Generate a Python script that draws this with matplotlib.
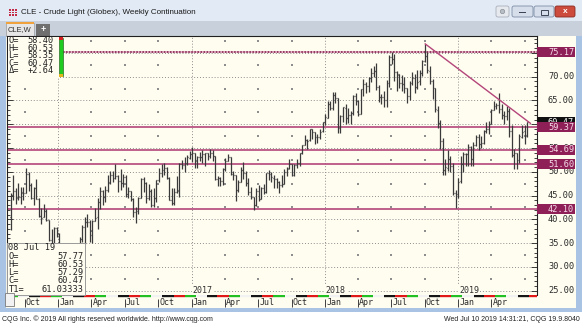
import numpy as np
import pandas as pd
import matplotlib
matplotlib.use("Agg")
import matplotlib.pyplot as plt
import matplotlib.dates as mdates
import matplotlib.patches as patches
import matplotlib.transforms as mtransforms

# ---------------------------------------------------------------------------
# weekly CLE continuation, one bar per week from 24 Aug 2015 to 08 Jul 2019
# ---------------------------------------------------------------------------
first_week = "2015-08-24"

opens = [
    # 2015
    40.5, 45.2, 46.0, 44.6, 44.7, 45.6, 45.5, 49.6, 47.3, 44.6, 46.6, 44.3, 40.7, 40.4, 41.7, 39.9, 35.6, 34.8, 38.1,
    # 2016
    37.0, 33.2, 29.4, 32.2, 33.6, 30.9, 29.4, 31.0, 32.8, 35.9, 38.5, 39.4, 39.5, 36.8, 39.7, 40.4, 43.7, 45.9, 44.7, 46.2,
    47.8, 49.3, 48.6, 49.1, 48.0, 47.6, 49.0, 45.4, 45.9, 44.2, 41.6, 41.8, 44.5, 48.5, 47.6, 44.4, 45.9, 43.0, 44.5, 48.2,
    49.8, 50.4, 50.9, 48.7, 44.1, 43.4, 45.7, 46.1, 51.7, 51.5, 51.9, 53.0,
    # 2017
    53.7, 54.0, 52.4, 53.2, 53.2, 53.8, 53.9, 53.4, 54.0, 53.3, 48.5, 48.8, 48.0, 50.6, 52.2, 53.2, 49.6, 49.3, 46.2, 47.8,
    50.3, 49.8, 47.7, 45.8, 44.7, 43.0, 46.0, 44.2, 46.5, 45.8, 49.7, 49.6, 48.8, 48.5, 47.9, 47.3, 47.5, 49.9, 50.7, 51.7,
    49.3, 51.5, 51.8, 53.9, 55.6, 56.7, 56.6, 58.9, 58.4, 57.4, 57.3, 58.5,
    # 2018
    60.4, 61.4, 64.3, 63.4, 66.1, 65.5, 59.2, 61.7, 63.5, 61.3, 62.0, 62.3, 65.9, 64.9, 62.1, 67.4, 68.4, 68.1, 69.7, 70.7,
    71.3, 67.9, 65.8, 65.7, 65.1, 68.6, 74.2, 73.8, 71.0, 70.5, 68.7, 68.5, 67.6, 65.9, 68.7, 69.8, 67.8, 69.0, 70.8, 73.3,
    74.3, 71.3, 69.1, 67.6, 63.1, 60.2, 56.5, 50.4, 50.9, 52.6, 51.2, 45.6, 45.3,
    # 2019
    48.0, 51.6, 53.8, 53.7, 55.3, 52.7, 55.6, 57.3, 55.8, 56.1, 58.5, 59.0, 60.1, 63.1, 63.9, 64.0, 63.3, 61.9, 61.7, 62.8,
    58.6, 53.5, 54.0, 52.5, 57.4, 58.5, 57.77,
]
highs = [
    45.5, 49.3, 46.5, 47.7, 46.8, 46.8, 50.9, 49.9, 47.7, 46.9, 48.4, 44.5, 42.3, 43.3, 42.2, 39.9, 37.9, 38.3, 38.4,
    37.1, 33.3, 32.4, 34.8, 34.2, 31.8, 32.5, 33.1, 36.3, 38.9, 40.6, 41.2, 39.9, 39.8, 42.4, 44.5, 46.8, 46.2, 47.1, 49.3,
    50.2, 50.2, 51.7, 49.4, 50.5, 49.6, 49.4, 46.9, 46.0, 44.4, 42.6, 44.8, 48.8, 49.0, 47.8, 47.5, 46.4, 46.5, 48.3, 50.7,
    51.6, 51.9, 51.0, 49.0, 46.5, 46.5, 49.2, 51.9, 52.4, 53.2, 53.6, 54.3,
    55.2, 54.0, 53.4, 54.1, 54.5, 54.0, 54.0, 54.9, 54.6, 53.4, 49.1, 48.9, 50.8, 52.9, 53.8, 53.2, 50.2, 49.3, 48.3, 51.0,
    52.0, 50.2, 48.8, 46.9, 44.7, 46.5, 47.3, 46.8, 47.5, 49.8, 50.4, 50.0, 49.4, 48.8, 48.0, 49.4, 50.5, 51.1, 52.8, 51.7,
    51.6, 52.8, 54.0, 55.6, 57.7, 57.0, 59.0, 59.0, 58.4, 58.0, 58.9, 60.5,
    62.2, 64.8, 64.9, 66.7, 66.7, 65.6, 62.0, 63.7, 64.2, 63.4, 62.7, 66.1, 66.6, 65.1, 67.4, 69.6, 68.9, 70.0, 71.9, 72.3,
    72.8, 68.2, 66.3, 67.1, 69.3, 74.5, 75.3, 74.8, 71.3, 70.5, 70.4, 70.0, 67.6, 69.1, 71.0, 70.6, 71.4, 71.4, 73.6, 76.9,
    75.3, 72.2, 69.6, 67.6, 63.9, 60.8, 57.1, 52.6, 54.6, 53.4, 51.9, 46.2, 48.8,
    53.3, 54.1, 54.0, 55.8, 55.5, 56.2, 57.8, 57.9, 57.5, 58.8, 60.4, 60.7, 63.3, 64.8, 64.4, 66.6, 64.2, 62.7, 63.9, 63.4,
    59.8, 54.8, 54.0, 57.9, 59.9, 59.9, 60.53,
]
lows = [
    37.75, 44.0, 43.2, 44.0, 43.2, 44.0, 45.5, 45.9, 44.2, 43.0, 44.3, 40.6, 39.0, 40.4, 39.6, 35.4, 34.5, 34.6, 36.3,
    32.1, 29.4, 27.6, 29.2, 29.5, 26.05, 28.8, 29.6, 32.6, 35.3, 34.9, 38.5, 35.2, 35.1, 39.6, 38.0, 42.2, 43.0, 43.6, 45.8,
    47.4, 47.8, 48.5, 45.8, 46.1, 46.8, 44.8, 44.4, 43.8, 40.6, 39.2, 41.2, 44.4, 45.8, 43.4, 44.0, 42.5, 42.7, 43.6, 47.8,
    49.0, 49.3, 48.4, 44.0, 43.0, 43.0, 45.5, 44.8, 50.5, 50.0, 51.5, 52.6,
    52.1, 50.7, 50.9, 52.2, 51.9, 51.2, 52.4, 53.0, 52.3, 48.3, 47.1, 47.1, 47.3, 50.2, 52.2, 49.4, 48.2, 43.8, 45.8, 47.8,
    48.4, 47.0, 45.2, 44.2, 42.05, 42.9, 43.8, 44.2, 45.4, 45.6, 48.3, 47.8, 46.5, 46.6, 45.6, 46.8, 47.4, 49.2, 50.6, 49.1,
    49.2, 50.7, 51.3, 53.7, 55.6, 54.8, 56.4, 56.8, 55.8, 56.1, 57.0, 58.4,
    59.9, 61.4, 63.0, 63.1, 64.4, 58.1, 58.2, 60.4, 60.0, 60.2, 60.1, 61.9, 64.0, 61.8, 62.1, 66.0, 66.5, 66.8, 68.8, 69.9,
    67.3, 64.6, 64.2, 63.6, 63.6, 67.9, 72.6, 69.2, 67.0, 67.6, 66.9, 66.6, 64.4, 65.2, 68.3, 66.5, 67.5, 68.3, 70.1, 73.1,
    70.8, 68.5, 65.3, 62.6, 59.3, 54.8, 49.4, 49.4, 50.1, 49.9, 45.1, 42.36, 44.4,
    47.6, 49.9, 51.3, 51.3, 51.2, 51.2, 55.4, 54.5, 55.1, 55.8, 58.2, 57.9, 60.1, 63.0, 63.3, 62.4, 61.2, 60.0, 60.8, 57.3,
    53.1, 50.6, 50.6, 51.8, 57.2, 55.9, 57.29,
]
closes = [
    45.22, 46.05, 44.63, 44.68, 45.70, 45.54, 49.63, 47.26, 44.60, 46.59, 44.29, 40.74, 40.39, 41.71, 39.97, 35.62, 34.73,
    38.10, 37.04,
    33.16, 29.42, 32.19, 33.62, 30.89, 29.44, 29.64, 32.78, 35.92, 38.50, 39.44, 39.46, 36.79, 39.72, 40.36, 43.73, 45.92,
    44.66, 46.21, 47.75, 49.33, 48.62, 49.07, 47.98, 47.64, 48.99, 45.41, 45.95, 44.19, 41.60, 41.80, 44.49, 48.52, 47.64,
    44.44, 45.88, 43.03, 44.48, 48.24, 49.81, 50.35, 50.85, 48.70, 44.07, 43.41, 45.69, 46.06, 51.68, 51.50, 51.90, 53.02,
    53.72,
    53.99, 52.37, 53.22, 53.17, 53.83, 53.86, 53.40, 53.99, 53.33, 48.49, 48.78, 47.97, 50.60, 52.24, 53.18, 49.62, 49.33,
    46.22, 47.84, 50.33, 49.80, 47.66, 45.83, 44.74, 43.01, 46.04, 44.23, 46.54, 45.77, 49.71, 49.58, 48.82, 48.51, 47.87,
    47.29, 47.48, 49.89, 50.66, 51.67, 49.29, 51.45, 51.84, 53.90, 55.64, 56.74, 56.55, 58.95, 58.36, 57.36, 57.30, 58.47,
    60.42,
    61.44, 64.30, 63.37, 66.14, 65.45, 59.20, 61.68, 63.55, 61.25, 62.04, 62.34, 65.88, 64.94, 62.06, 67.39, 68.38, 68.10,
    69.72, 70.70, 71.28, 67.88, 65.81, 65.74, 65.06, 68.58, 74.15, 73.80, 71.01, 70.46, 68.69, 68.49, 67.63, 65.91, 68.72,
    69.80, 67.75, 68.99, 70.78, 73.25, 74.34, 71.34, 69.12, 67.59, 63.14, 60.19, 56.46, 50.42, 50.93, 52.61, 51.20, 45.59,
    45.33, 47.96,
    51.59, 53.80, 53.69, 55.26, 52.72, 55.59, 57.26, 55.80, 56.07, 58.52, 59.04, 60.14, 63.08, 63.89, 64.00, 63.30, 61.94,
    61.66, 62.76, 58.63, 53.50, 53.99, 52.51, 57.43, 58.47, 57.51, 60.47,
]

# study lines drawn on the chart
level_values = [75.17, 59.37, 54.69, 51.60, 42.10]
last_close = 60.47
trend_dates = ["2018-10-02", "2019-07-17"]
trend_values = [76.9, 60.2]

# right axis scale
price_ticks = [25, 30, 35, 40, 45, 50, 55, 60, 65, 70, 75]

# year markers shown along the bottom (2016 sits under the read-out box)
year_labels = ["2017", "2018", "2019"]

# read-outs
top_info = [("O=", "58.40"), ("H=", "60.53"), ("L=", "58.35"), ("C=", "60.47"), ("\u0394=", "+2.64")]
cursor_date = "08 Jul 19"
cursor_info = [("O=", "57.77"), ("H=", "60.53"), ("L=", "57.29"), ("C=", "60.47"), ("T1=", "61.03333")]

title = "CLE - Crude Light (Globex), Weekly Continuation"
footer_left = "CQG Inc. \u00a9 2019 All rights reserved worldwide. http://www.cqg.com"
footer_right = "Wed Jul 10 2019 14:31:21, CQG 19.9.8040"

#==================================================================================================================

W, H = 582, 327
CREAM = "#FFFDF0"
FRAME = "#A9C3E4"
LINE_C = "#B4457A"
TAG_C = "#8E1F57"
MONO = "DejaVu Sans Mono"
SANS = "Liberation Sans"

fig = plt.figure(figsize=(W / 100, H / 100), dpi=100)

# full figure canvas in pixel units for the window chrome
bg = fig.add_axes([0, 0, 1, 1], zorder=0)
bg.set_xlim(0, W)
bg.set_ylim(H, 0)
bg.axis("off")


def box(x0, y0, x1, y1, fc, ec="none", lw=0.0, z=1, top=False):
    r = patches.Rectangle((x0, y0), x1 - x0, y1 - y0, facecolor=fc, edgecolor=ec, lw=lw,
                          transform=bg.transData, zorder=z)
    if top:
        fig.add_artist(r)
    else:
        bg.add_patch(r)
    return r


def ftext(x, y, s, z=7, **kw):
    fig.text(x / W, 1 - y / H, s, zorder=z, **kw)


# window frame
box(0, 0, W, H, "#D6E1EF")
box(0, 0, W, 21, "#E2EAF5")
box(0, 21, W, 36, "#C8D0DB")
box(0, 36, 6, 309, FRAME)
box(576, 36, W, 309, FRAME)
box(0, 308, W, 312, FRAME)
box(0, 312, W, H, "#FFFFFF")
box(6, 36, 576, 308, CREAM)

# title bar icon and text
for i in range(3):
    for j in range(3):
        box(8.5 + 3 * i, 9 + 2.6 * j, 10.5 + 3 * i, 10.8 + 2.6 * j, "#C42A45")
ftext(21, 12.5, title, fontsize=5.8, family=SANS, color="#1A1A1A", va="center", ha="left")

# window buttons
btns = [(496, 509, "#E6E9EE", "#A8AFBA"), (512, 533, "#D5DEEA", "#7D8DA6"),
        (534, 554, "#D5DEEA", "#7D8DA6"), (555, 575, "#CC4B3C", "#8B2B22")]
for x0, x1, fc, ec in btns:
    bg.add_patch(patches.FancyBboxPatch((x0, 6), x1 - x0, 11, boxstyle="round,pad=0,rounding_size=2",
                                        facecolor=fc, edgecolor=ec, lw=0.6, transform=bg.transData))
box(519, 12, 526, 13.4, "#3C4656")
bg.add_patch(patches.Rectangle((540.5, 9.5), 7, 5, facecolor="none", edgecolor="#3C4656", lw=0.7))
ftext(565, 11.8, "x", fontsize=6, family=SANS, color="white", ha="center", va="center", weight="bold")
bg.add_patch(patches.Circle((502.5, 11.5), 2.2, facecolor="#B8BEC6", edgecolor="#8A9099", lw=0.5))

# tabs
box(6, 23, 34, 36, "#E6E6E6", ec="#9A9A9A", lw=0.5)
box(6, 22, 34, 23.6, "#F0A23C")
ftext(20, 29.8, "CLE,W", fontsize=5.4, family=SANS, color="#303030", ha="center", va="center")
box(36, 24, 50, 36, "#6F6F6F")
ftext(43, 29.8, "+", fontsize=6.5, family=SANS, color="white", ha="center", va="center", weight="bold")

# footer
ftext(2, 319.5, footer_left, fontsize=5.0, family=SANS, color="#202020", ha="left", va="center")
ftext(580, 319.5, footer_right, fontsize=5.0, family=SANS, color="#202020", ha="right", va="center")

#==================================================================================================================
# price pane
#==================================================================================================================
ax_l, ax_r, ax_t, ax_b = 7, 537, 36, 295
ax = fig.add_axes([ax_l / W, 1 - ax_b / H, (ax_r - ax_l) / W, (ax_b - ax_t) / H], zorder=1)
ax.set_facecolor(CREAM)

dates = pd.date_range(first_week, periods=len(closes), freq="7D")
xd = mdates.date2num(dates)
x_left = mdates.date2num(pd.Timestamp("2015-08-14"))
x_right = mdates.date2num(pd.Timestamp("2019-08-04"))
ax.set_xlim(x_left, x_right)
ax.set_ylim(24.1, 78.56)

# grid: dotted price levels, dotted year lines, dots at quarter / half levels
grid_c = "#8E8E8E"
for p in price_ticks:
    ax.axhline(p, color=grid_c, lw=0.7, ls=(0, (1, 2)), zorder=1)
years = pd.date_range("2016-01-01", "2019-01-01", freq="YS")
for yd in years:
    ax.axvline(mdates.date2num(yd), color=grid_c, lw=0.7, ls=(0, (1, 2)), zorder=1)
quarters = [d for d in pd.date_range("2015-10-01", "2019-07-01", freq="QS") if d.month != 1]
half_levels = [p + 2.5 for p in price_ticks]
qx, qy = np.meshgrid(mdates.date2num(quarters), half_levels)
ax.scatter(qx.ravel(), qy.ravel(), s=0.6, color=grid_c, marker="s", lw=0, zorder=1)

# horizontal levels
ax.axhline(level_values[0], xmin=(63 - ax_l) / (ax_r - ax_l), color="#E6B2C8", lw=1.4, zorder=2)
ax.axhline(level_values[0], xmin=(63 - ax_l) / (ax_r - ax_l), color="#7E1A45", lw=1.1, ls=(0, (1, 1)), zorder=2)
for lv in level_values[1:]:
    ax.axhline(lv, color=LINE_C, lw=1.2, zorder=2)

# weekly OHLC bars
bar_c = "#3A3A3A"
ax.vlines(xd, lows, highs, color=bar_c, lw=0.9, zorder=3)
ax.hlines(opens, xd - 2.6, xd, color=bar_c, lw=0.9, zorder=3)
ax.hlines(closes, xd, xd + 2.6, color=bar_c, lw=0.9, zorder=3)

# trend line
ax.plot(mdates.date2num(pd.to_datetime(trend_dates)), trend_values, color=LINE_C, lw=1.0, zorder=4)

# year labels sitting on the bottom grid line
for yl in year_labels:
    ax.text(mdates.date2num(pd.Timestamp(yl + "-01-01")) + 2, price_ticks[0], yl, fontsize=6, family=MONO,
            color="#303030", ha="left", va="center", zorder=4,
            bbox=dict(boxstyle="square,pad=0.1", facecolor=CREAM, edgecolor="none"))

# frame and ticks
for side in ["left", "right", "top"]:
    ax.spines[side].set_color("#202020")
    ax.spines[side].set_linewidth(0.8)
ax.spines["bottom"].set_visible(False)
ax.set_xticks([])
ax.set_yticks(price_ticks)
ax.yaxis.set_minor_locator(matplotlib.ticker.MultipleLocator(1))
ax.tick_params(axis="y", which="both", direction="in", left=True, right=True, labelleft=False,
               labelright=False, color="#202020", width=0.6)
ax.tick_params(axis="y", which="major", length=4)
ax.tick_params(axis="y", which="minor", length=2)

# right price scale and level tags
yt = mtransforms.blended_transform_factory(ax.transAxes, ax.transData)
lab_x = 1 + (548 - ax_r) / (ax_r - ax_l)
tag_w = (575 - ax_r) / (ax_r - ax_l)
tag_h = 10 / ((ax_b - ax_t) / (78.56 - 24.1))
for p in price_ticks:
    ax.text(lab_x, p, f"{p:.2f}", transform=yt, fontsize=6.2, family=MONO, color="#2A2A2A",
            ha="left", va="center", clip_on=False, zorder=5)
ax.add_patch(patches.Rectangle((1.0, last_close - tag_h / 2), tag_w, tag_h, transform=yt, facecolor="#111111",
                               edgecolor="none", clip_on=False, zorder=6))
ax.text(lab_x, last_close, f"{last_close:.2f}", transform=yt, fontsize=6.2, family=MONO, color="white",
        ha="left", va="center", clip_on=False, zorder=7)
for lv in level_values:
    ax.add_patch(patches.Rectangle((1.0, lv - tag_h / 2), tag_w, tag_h, transform=yt, facecolor=TAG_C,
                                   edgecolor="none", clip_on=False, zorder=8))
    ax.text(lab_x, lv, f"{lv:.2f}", transform=yt, fontsize=6.2, family=MONO, color="#F6DCE8",
            ha="left", va="center", clip_on=False, zorder=9)

#==================================================================================================================
# date strip under the pane
#==================================================================================================================
dax = fig.add_axes([ax_l / W, 1 - 308 / H, (ax_r - ax_l) / W, (308 - ax_b) / H], zorder=2)
dax.set_xlim(x_left, x_right)
dax.set_ylim(13, 0)
dax.axis("off")

seg_starts = pd.date_range("2015-07-01", "2019-09-01", freq="MS") + pd.Timedelta(days=11)
seg_colors = ["#E01818", "#22C022", "#F2F2F2", "#151515"]
sx = mdates.date2num(seg_starts)
for i in range(len(sx) - 1):
    dax.hlines(1.3, max(sx[i], x_left), min(sx[i + 1], x_right), color=seg_colors[i % 4], lw=1.7)

for q in pd.date_range("2015-10-01", "2019-04-01", freq="QS"):
    qn = mdates.date2num(q)
    dax.vlines(qn, 4, 11.5, color="#404040", lw=0.7)
    dax.text(qn + 3, 7.6, q.strftime("%b"), fontsize=6, family=MONO, color="#2A2A2A", ha="left", va="center")

#==================================================================================================================
# overlays: read-out boxes
#==================================================================================================================
box(7.5, 36.6, 59, 78, CREAM, z=5, top=True)
for k, (lab, val) in enumerate(top_info):
    yy = 40.5 + 7.6 * k
    ftext(8.5, yy, lab, fontsize=6.2, family=MONO, color="#222222", ha="left", va="center")
    ftext(54, yy, val, fontsize=6.2, family=MONO, color="#222222", ha="right", va="center")
box(59, 38, 63, 76, "#1FCB1F", ec="#2F6F2F", lw=0.5, z=6, top=True)
box(59, 37, 63, 39.5, "#D42020", z=6, top=True)
box(59, 74, 63, 76.5, "#E2B51E", z=6, top=True)

box(7, 243, 85, 295, CREAM, ec="#9A9A9A", lw=0.7, z=5, top=True)
ftext(8.5, 247.8, cursor_date, fontsize=6.2, family=MONO, color="#222222", ha="left", va="center")
for k, (lab, val) in enumerate(cursor_info):
    yy = 256.3 + 8.2 * k
    ftext(8.5, yy, lab, fontsize=6.2, family=MONO, color="#222222", ha="left", va="center")
    ftext(84, yy, val, fontsize=6.2, family=MONO, color="#222222", ha="right", va="center")

box(5, 293, 14, 306, "#F2F2F2", ec="#7A7A7A", lw=0.6, z=6, top=True)

fig.savefig("out.png", dpi=100)
